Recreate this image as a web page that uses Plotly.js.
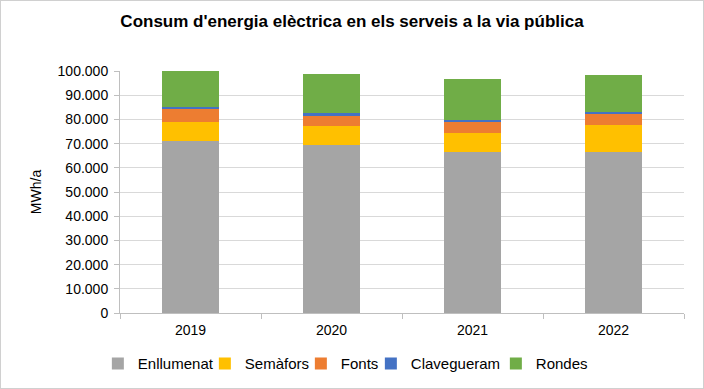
<!DOCTYPE html>
<html>
<head>
<meta charset="utf-8">
<script src="https://cdn.plot.ly/plotly-3.0.1.min.js"></script>
<style>
html,body{margin:0;padding:0;background:#fff;}
#wrap{position:relative;width:704px;height:389px;}
#chart{width:704px;height:389px;}
#frame{position:absolute;left:0;top:0;width:704px;height:389px;box-sizing:border-box;border:1px solid #d0d0d0;pointer-events:none;}
</style>
</head>
<body>
<div id="wrap"><div id="chart"></div><div id="frame"></div></div>
<script>
const years = ['2019', '2020', '2021', '2022'];
const enllumenat = [71200, 69400, 66650, 66650];
const semafors = [7850, 7850, 7850, 11050];
const fonts = [5250, 4250, 4430, 4650];
const clavegueram = [950, 1000, 950, 830];
const rondes = [14650, 16100, 16700, 15170];

const seriesNames = ['Enllumenat', 'Semàfors', 'Fonts', 'Clavegueram', 'Rondes'];
const seriesValues = [enllumenat, semafors, fonts, clavegueram, rondes];
const seriesColors = ['#A5A5A5', '#FFC000', '#ED7D31', '#4472C4', '#70AD47'];
const legendWidths = [62, 51, 25, 80, 56];

const font = 'Liberation Sans, Arial, sans-serif';

const data = seriesNames.map((n, i) => ({
  type: 'bar',
  name: n,
  x: years,
  y: seriesValues[i],
  marker: {color: seriesColors[i], line: {width: 0}},
  legendwidth: legendWidths[i],
  hoverinfo: 'x+y+name'
}));

const layout = {
  width: 704, height: 389,
  margin: {l: 120, r: 20, t: 71, b: 76, autoexpand: false},
  paper_bgcolor: '#fff', plot_bgcolor: '#fff',
  barmode: 'stack', bargap: 0.6,
  separators: ',.',
  font: {family: font, size: 14, color: '#000'},
  title: {text: "<b>Consum d'energia elèctrica en els serveis a la via pública</b>",
          font: {family: font, size: 17, color: '#000'}, x: 0.5, xanchor: 'center',
          y: 0.945, yanchor: 'middle'},
  xaxis: {
    type: 'category', showgrid: false, showline: true, linecolor: '#bfbfbf', linewidth: 1,
    ticks: 'outside', tickson: 'boundaries', ticklen: 5, tickcolor: '#bfbfbf', ticklabelstandoff: 4,
    tickfont: {family: font, size: 14, color: '#000'}, fixedrange: true, automargin: false
  },
  yaxis: {
    range: [0, 100000], dtick: 10000, tickformat: ',d',
    showgrid: true, gridcolor: '#d9d9d9', gridwidth: 1,
    showline: true, linecolor: '#bfbfbf', linewidth: 1,
    ticks: 'outside', ticklen: 5, tickcolor: '#bfbfbf', ticklabelstandoff: 3,
    zeroline: false, automargin: false,
    tickfont: {family: font, size: 14, color: '#000'},
    title: {text: 'MWh/a', font: {family: font, size: 14, color: '#000'}, standoff: 12},
    fixedrange: true
  },
  legend: {
    orientation: 'h', x: 0.139, xref: 'container', xanchor: 'left',
    y: 0.065, yref: 'container', yanchor: 'middle',
    font: {family: font, size: 15, color: '#000'}, traceorder: 'normal',
    itemwidth: 30, bgcolor: 'rgba(0,0,0,0)'
  },
  showlegend: true
};

Plotly.newPlot('chart', data, layout, {displayModeBar: false, staticPlot: true});
</script>
</body>
</html>
